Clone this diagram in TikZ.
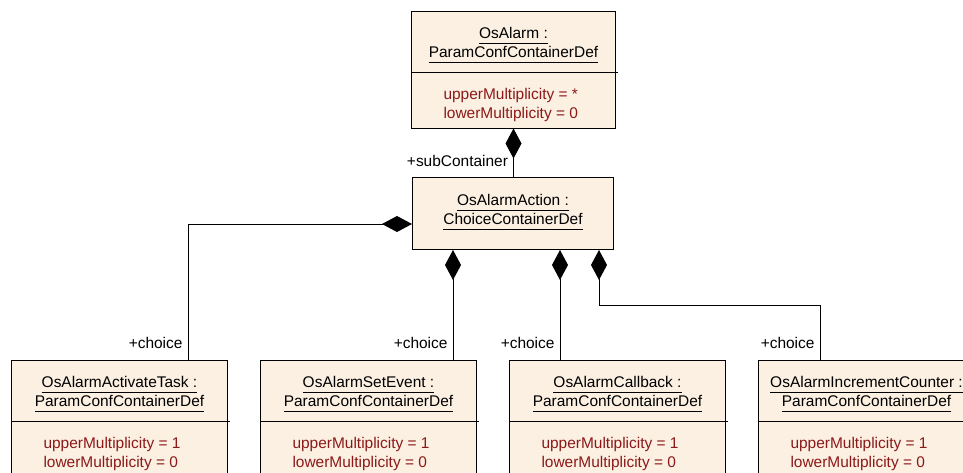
\documentclass[tikz,border=0pt]{standalone}
\usepackage{fontspec}
\setmainfont{Liberation Sans}
\usetikzlibrary{arrows.meta,positioning}
\definecolor{classfill}{RGB}{251,240,226}
\definecolor{attrred}{RGB}{140,25,25}
\newcommand{\umlfont}{\fontsize{11.6}{14.5}\selectfont}
\newcommand{\uln}[1]{\underline{#1\vphantom{p}}}
\begin{document}
\begin{tikzpicture}[x=0.75pt,y=-0.75pt,line width=0.75pt,
    classbox/.style={draw, fill=classfill, anchor=north west, inner sep=0pt},
    titletext/.style={anchor=north, align=center, inner sep=0pt, font=\umlfont},
    attrtext/.style={anchor=north west, align=left, inner sep=0pt, font=\umlfont, text=attrred},
    comp/.style={{Diamond[length=22.5pt,width=12pt]}-},
    role/.style={anchor=base east, inner sep=0pt, xshift=-3.75pt, yshift=7.9pt, font=\umlfont}]
    \useasboundingbox (0,0) rectangle (963,472);
    \clip (0,0) rectangle (963,472);

    % container with its multiplicity
    \node[classbox, minimum width=153pt, minimum height=87.75pt] (alarm) at (411,10.5) {};
    \node[titletext, below=10.1pt of alarm.north] (alarm-title) {\strut\uln{OsAlarm :}\\\uln{ParamConfContainerDef}};
    \draw ([yshift=-46.5pt]alarm.north west) -- ([yshift=-46.5pt,xshift=1.5pt]alarm.north east);
    \node[attrtext, below right=56pt and 24pt of alarm.north west] (alarm-attr) {\strut upperMultiplicity = *\\lowerMultiplicity = 0};

    % choice container
    \node[classbox, minimum width=150.75pt, minimum height=54pt] (action) at (412,177) {};
    \node[titletext, below=10.6pt of action.north] (action-title) {\strut\uln{OsAlarmAction :}\\\uln{ChoiceContainerDef}};

    % the four choices
    \foreach \n/\x/\cname in {task/11/OsAlarmActivateTask, setevent/260/OsAlarmSetEvent, callback/509/OsAlarmCallback, counter/758/OsAlarmIncrementCounter} {
        \node[classbox, minimum width=162pt, minimum height=97.5pt] (\n) at (\x,359.5) {};
        \node[titletext, below=10.1pt of \n.north] (\n-title) {\strut\uln{\cname\ :}\\\uln{ParamConfContainerDef}};
        \draw ([yshift=-46.5pt]\n.north west) -- ([yshift=-46.5pt,xshift=1.5pt]\n.north east);
        \node[attrtext, below right=56pt and 24pt of \n.north west] (\n-attr) {\strut upperMultiplicity = 1\\lowerMultiplicity = 0};
    }

    \coordinate (bend1) at (188,224);
    \coordinate (drop2) at (453,0);
    \coordinate (drop3) at (560,0);
    \coordinate (drop4) at (599,0);
    \coordinate (bend4) at (820,305);

    \draw[comp] (alarm.south) -- (action.north -| alarm.south) node[role] {+subContainer};
    \draw[comp] (action.west |- bend1) -| (task.north -| bend1) node[role] {+choice};
    \draw[comp] (action.south -| drop2) -- (setevent.north -| drop2) node[role] {+choice};
    \draw[comp] (action.south -| drop3) -- (callback.north -| drop3) node[role] {+choice};
    \draw[comp] (action.south -| drop4) |- (bend4) -- (counter.north -| bend4) node[role] {+choice};
\end{tikzpicture}
\end{document}
